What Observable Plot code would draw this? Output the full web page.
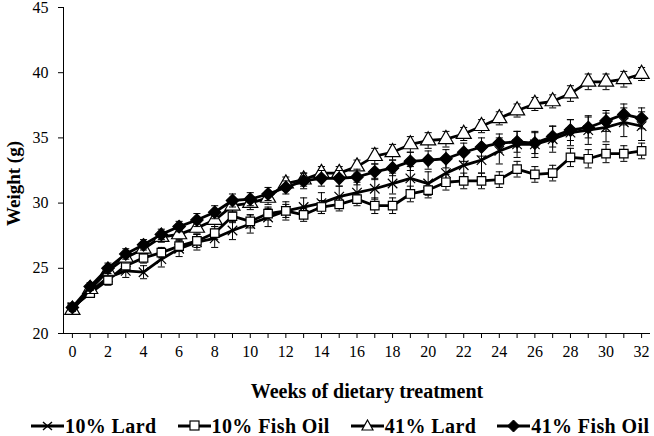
<!DOCTYPE html>
<html><head><meta charset="utf-8">
<script src="https://cdn.jsdelivr.net/npm/d3@7"></script>
<script src="https://cdn.jsdelivr.net/npm/@observablehq/plot@0.6"></script>
<style>
body{margin:0;background:#fff;}
#chart{width:654px;}
.legend{display:flex;flex-wrap:nowrap;white-space:nowrap;justify-content:flex-start;align-items:center;gap:21px;padding-left:31px;padding-top:11px;font-family:"Liberation Serif","Times New Roman",Tinos,Times,"DejaVu Serif",serif;font-weight:bold;font-size:20px;letter-spacing:0.4px;color:#000;line-height:20px;}
.legend .item{display:flex;align-items:center;flex:none;white-space:nowrap;}
.legend svg{display:block;margin-right:1px;}
</style></head><body><div id="chart"></div>
<script>
const weeks = [0,1,2,3,4,5,6,7,8,9,10,11,12,13,14,15,16,17,18,19,20,21,22,23,24,25,26,27,28,29,30,31,32];
const yTicks = [20,25,30,35,40,45];
const xDomain = [-0.5,32.5];
const yDomain = [20,45];
const seriesNames = ["10% Lard","10% Fish Oil","41% Lard","41% Fish Oil"];

const lard10 = [22.0,23.2,24.3,24.8,24.7,25.7,26.5,27.0,27.3,27.9,28.4,28.9,29.4,29.7,30.0,30.5,30.8,31.1,31.5,31.9,31.5,32.3,32.9,33.3,34.0,34.5,34.5,34.9,35.4,35.6,35.8,36.2,35.9];
const fishOil10 = [22.0,23.1,24.1,25.2,25.8,26.2,26.7,27.1,27.7,29.0,28.6,29.2,29.4,29.1,29.7,29.9,30.3,29.8,29.8,30.7,31.0,31.6,31.7,31.7,31.8,32.6,32.2,32.3,33.5,33.4,33.8,33.8,34.0];
const lard41 = [21.8,23.4,24.8,25.8,26.5,27.4,27.6,28.1,28.7,29.8,30.0,30.4,31.5,31.8,32.3,32.3,32.8,33.6,33.9,34.5,34.8,34.9,35.3,35.9,36.5,37.1,37.6,37.8,38.4,39.3,39.3,39.5,39.9];
const fishOil41 = [22.0,23.6,25.0,26.1,26.8,27.6,28.2,28.7,29.3,30.2,30.3,30.7,31.2,31.7,31.9,31.9,32.0,32.4,32.7,33.2,33.3,33.4,33.9,34.3,34.6,34.7,34.6,35.1,35.6,35.8,36.3,36.8,36.5];

const lard10Se = [0.3,0.4,0.4,0.5,0.5,0.6,0.6,0.6,0.7,0.7,0.7,0.7,0.7,0.7,0.8,0.8,0.8,0.8,0.8,0.9,0.9,0.9,0.9,1.0,1.0,1.0,1.0,1.0,1.0,1.1,1.1,1.1,1.1];
const fishOil10Se = [0.3,0.3,0.4,0.4,0.4,0.4,0.4,0.5,0.5,0.5,0.5,0.5,0.5,0.5,0.5,0.5,0.5,0.6,0.6,0.6,0.6,0.6,0.6,0.6,0.6,0.6,0.6,0.6,0.7,0.7,0.7,0.6,0.6];
const lard41Se = [0.3,0.3,0.4,0.4,0.4,0.4,0.4,0.4,0.5,0.5,0.5,0.5,0.5,0.5,0.5,0.5,0.5,0.6,0.6,0.6,0.6,0.6,0.5,0.5,0.5,0.5,0.5,0.5,0.6,0.6,0.6,0.6,0.5];
const fishOil41Se = [0.3,0.3,0.4,0.4,0.4,0.4,0.4,0.5,0.5,0.5,0.5,0.5,0.5,0.6,0.6,0.6,0.6,0.6,0.6,0.7,0.7,0.7,0.7,0.7,0.7,0.8,0.8,0.8,0.8,0.8,0.8,0.8,0.8];

const means = [lard10, fishOil10, lard41, fishOil41];
const ses = [lard10Se, fishOil10Se, lard41Se, fishOil41Se];
const symbols = ["times","square","triangle","diamond2"];
const fills = ["none","white","white","black"];
const radii = [4.4,4.8,5.6,5.6];

const serif = '"Liberation Serif","Times New Roman",Tinos,Times,"DejaVu Serif",serif';
const capSymbol = {draw(ctx, size){const w = Math.sqrt(size)/2; ctx.moveTo(-w,0); ctx.lineTo(w,0);}};

const marks = [];
seriesNames.forEach((name,i)=>{
  const rows = weeks.map((w,j)=>({series:name, week:w, weight:means[i][j], lo:means[i][j]-ses[i][j], hi:means[i][j]+ses[i][j]}));
  marks.push(Plot.line(rows,{x:"week",y:"weight",stroke:"black",strokeWidth:2.8}));
  marks.push(Plot.ruleX(rows,{x:"week",y1:"lo",y2:"hi",stroke:"black",strokeWidth:1}));
  marks.push(Plot.dot(rows,{x:"week",y:"lo",symbol:capSymbol,r:4,stroke:"black",strokeWidth:1,fill:"none"}));
  marks.push(Plot.dot(rows,{x:"week",y:"hi",symbol:capSymbol,r:4,stroke:"black",strokeWidth:1,fill:"none"}));
  marks.push(Plot.dot(rows,{x:"week",y:"weight",symbol:symbols[i],r:radii[i],stroke:"black",strokeWidth:1.2,fill:fills[i]}));
});

const chart = Plot.plot({
  width:654, height:405,
  marginLeft:63, marginRight:4, marginTop:7, marginBottom:72,
  x:{domain:xDomain},
  y:{domain:yDomain},
  style:{fontFamily:serif, fontSize:"16px", color:"black", background:"white", overflow:"visible"},
  marks:[
    Plot.axisY({ticks:yTicks, tickSize:5, tickPadding:10, label:null, fontSize:16, fontFamily:serif}),
    Plot.axisX({ticks:weeks, tickFormat:d=> d%2===0 ? String(d) : "", tickSize:5, tickPadding:7, label:null, fontSize:16, fontFamily:serif}),
    Plot.ruleY([yDomain[0]],{stroke:"black",strokeWidth:1}),
    Plot.ruleX([xDomain[0]],{stroke:"black",strokeWidth:1}),
    ...marks,
    Plot.text(["Weeks of dietary treatment"],{text:d=>d, frameAnchor:"bottom", lineAnchor:"middle", textAnchor:"middle", dy:58, dx:10, fontWeight:"bold", fontSize:20, fontFamily:serif}),
    Plot.text(["Weight (g)"],{text:d=>d, frameAnchor:"left", textAnchor:"middle", lineAnchor:"middle", rotate:-90, dx:-50, dy:13, fontWeight:"bold", fontSize:19, fontFamily:serif})
  ]
});
document.getElementById("chart").appendChild(chart);

// legend
const legend = document.createElement("div");
legend.className = "legend";
const markerSvg = {
  "times": '<path d="M12,3L21,11M21,3L12,11" stroke="black" stroke-width="1.4" fill="none"/>',
  "square": '<rect x="12" y="2" width="9" height="9" fill="white" stroke="black" stroke-width="1.2"/>',
  "triangle": '<path d="M16.5,1L22,11L11,11Z" fill="white" stroke="black" stroke-width="1.2"/>',
  "diamond2": '<path d="M16.5,1L22.5,7L16.5,13L10.5,7Z" fill="black" stroke="black" stroke-width="1"/>'
};
seriesNames.forEach((name,i)=>{
  const item = document.createElement("div");
  item.className = "item";
  item.innerHTML = '<svg width="33" height="14"><line x1="0" y1="7" x2="33" y2="7" stroke="black" stroke-width="2.8"/>' + markerSvg[symbols[i]] + '</svg><span>' + name + '</span>';
  legend.appendChild(item);
});
document.getElementById("chart").appendChild(legend);
</script>
</body></html>
